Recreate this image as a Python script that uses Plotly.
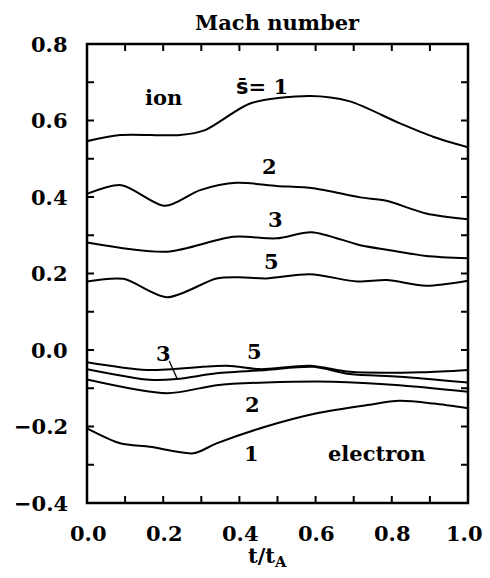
import plotly.graph_objects as go

# ---- data ----
ion_s1_t = [0.0, 0.087, 0.244, 0.31, 0.43, 0.585, 0.69, 0.82, 0.91, 1.0]
ion_s1_m = [0.546, 0.562, 0.562, 0.575, 0.645, 0.664, 0.650, 0.593, 0.557, 0.530]

ion_s2_t = [0.0, 0.09, 0.205, 0.297, 0.393, 0.498, 0.594, 0.717, 0.786, 0.89, 1.0]
ion_s2_m = [0.408, 0.431, 0.377, 0.418, 0.437, 0.429, 0.423, 0.399, 0.390, 0.357, 0.342]

ion_s3_t = [0.0, 0.21, 0.384, 0.498, 0.59, 0.717, 0.795, 0.89, 1.0]
ion_s3_m = [0.281, 0.257, 0.296, 0.292, 0.308, 0.274, 0.261, 0.246, 0.240]

ion_s5_t = [0.0, 0.095, 0.21, 0.34, 0.40, 0.47, 0.585, 0.71, 0.787, 0.89, 1.0]
ion_s5_m = [0.179, 0.186, 0.138, 0.187, 0.190, 0.187, 0.198, 0.179, 0.183, 0.168, 0.181]

el_s5_t = [0.0, 0.157, 0.367, 0.454, 0.585, 0.69, 0.88, 1.0]
el_s5_m = [-0.032, -0.052, -0.041, -0.050, -0.041, -0.057, -0.058, -0.052]

el_s3_t = [0.0, 0.165, 0.235, 0.34, 0.47, 0.594, 0.69, 0.82, 1.0]
el_s3_m = [-0.050, -0.078, -0.076, -0.061, -0.052, -0.044, -0.063, -0.070, -0.085]

el_s2_t = [0.0, 0.21, 0.34, 0.47, 0.646, 0.82, 1.0]
el_s2_m = [-0.077, -0.113, -0.092, -0.085, -0.083, -0.092, -0.109]

el_s1_t = [0.0, 0.087, 0.165, 0.28, 0.34, 0.47, 0.60, 0.735, 0.82, 0.91, 1.0]
el_s1_m = [-0.205, -0.244, -0.253, -0.270, -0.244, -0.200, -0.166, -0.144, -0.133, -0.140, -0.152]

series = [
    (ion_s1_t, ion_s1_m), (ion_s2_t, ion_s2_m), (ion_s3_t, ion_s3_m), (ion_s5_t, ion_s5_m),
    (el_s5_t, el_s5_m), (el_s3_t, el_s3_m), (el_s2_t, el_s2_m), (el_s1_t, el_s1_m),
]

# ticks every 0.1, labels every 0.2
x_tickvals = [i / 10 for i in range(0, 11)]
x_labelvals = [0.0, 0.2, 0.4, 0.6, 0.8, 1.0]
y_tickvals = [i / 10 for i in range(-4, 9)]
y_labelvals = [-0.4, -0.2, 0.0, 0.2, 0.4, 0.6, 0.8]

X_RANGE = [0.0, 1.0]
Y_RANGE = [-0.4, 0.8]

FONT = "DejaVu Serif"
FS = 21
BFONT = dict(family=FONT, size=FS, color="black", weight="bold")

# figure geometry
W, H = 474, 562
ML, MR, MT, MB = 79, 14, 36, 67
TL = 7  # tick length in px
plot_w = W - ML - MR
plot_h = H - MT - MB
dx = TL * (X_RANGE[1] - X_RANGE[0]) / plot_w
dy = TL * (Y_RANGE[1] - Y_RANGE[0]) / plot_h

fig = go.Figure()
line_style = dict(color="black", width=2, shape="spline", smoothing=0.8)
for t, m in series:
    fig.add_trace(go.Scatter(x=t, y=m, mode="lines", line=line_style,
                             showlegend=False, hoverinfo="skip"))

# inside tick marks on all four sides, built from the tick arrays
tx, ty = [], []
for v in x_tickvals:
    tx += [v, v, None, v, v, None]
    ty += [Y_RANGE[0], Y_RANGE[0] + dy, None, Y_RANGE[1], Y_RANGE[1] - dy, None]
for v in y_tickvals:
    tx += [X_RANGE[0], X_RANGE[0] + dx, None, X_RANGE[1], X_RANGE[1] - dx, None]
    ty += [v, v, None, v, v, None]
fig.add_trace(go.Scatter(x=tx, y=ty, mode="lines", line=dict(color="black", width=2),
                         connectgaps=False, showlegend=False, hoverinfo="skip"))

axis_common = dict(showline=False, ticks="", showgrid=False, zeroline=False, showticklabels=False)
fig.update_xaxes(range=X_RANGE, **axis_common)
fig.update_yaxes(range=Y_RANGE, **axis_common)

# frame
fig.add_shape(type="rect", xref="paper", yref="paper", x0=0, y0=0, x1=1, y1=1,
              line=dict(color="black", width=2.5), layer="above")

# bold tick labels placed on the axis scales
for v in x_labelvals:
    fig.add_annotation(x=v, y=0, xref="x", yref="paper", text=f"{v:.1f}", showarrow=False,
                       xanchor="center", yanchor="middle", yshift=-30,
                       xshift=(-4 if v == x_labelvals[-1] else 1), font=BFONT)
for v in y_labelvals:
    txt = ("\u2212" if v < 0 else "") + f"{abs(v):.1f}"
    fig.add_annotation(x=0, y=v, xref="paper", yref="y", text=txt, showarrow=False,
                       xanchor="right", yanchor="middle", xshift=-17, font=BFONT)

# axis title
fig.add_annotation(x=0.5, y=0, xref="paper", yref="paper", text="t/t<sub>A</sub>", showarrow=False,
                   xanchor="center", yanchor="middle", xshift=-10, yshift=-53, font=BFONT)


def ann(x, y, text):
    fig.add_annotation(x=x, y=y, xref="x", yref="y", text=text, showarrow=False,
                       xanchor="center", yanchor="middle", font=BFONT)


ann(0.2, 0.66, "ion")
ann(0.46, 0.69, "<span style='font-family:DejaVu Sans'>s\u0304</span>= 1")
ann(0.48, 0.479, "2")
ann(0.495, 0.34, "3")
ann(0.485, 0.231, "5")
ann(0.2, -0.008, "3")
ann(0.44, -0.005, "5")
ann(0.435, -0.142, "2")
ann(0.433, -0.27, "1")
ann(0.76, -0.27, "electron")

# leader line from electron "3" label to its curve
fig.add_shape(type="line", xref="x", yref="y", x0=0.216, y0=-0.029, x1=0.236, y1=-0.074,
              line=dict(color="black", width=1.3))

fig.add_annotation(x=0.5, y=1.0, xref="paper", yref="paper", yshift=7, text="Mach number",
                   showarrow=False, xanchor="center", yanchor="bottom", font=BFONT)

fig.update_layout(width=W, height=H, margin=dict(l=ML, r=MR, t=MT, b=MB),
                  plot_bgcolor="white", paper_bgcolor="white")

fig.write_html("out.html")
